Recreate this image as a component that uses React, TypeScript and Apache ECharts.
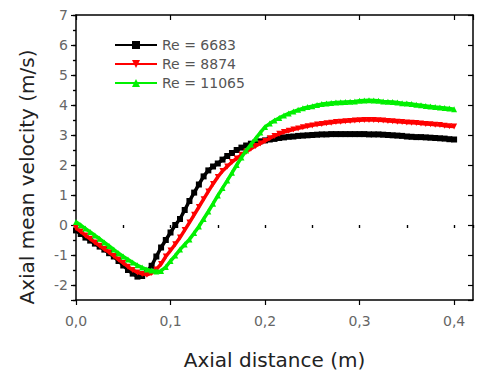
import React, { useEffect, useRef } from "react";
import * as echarts from "echarts";

// Axial distance (m)
const distance = [
  0.0, 0.005, 0.01, 0.015, 0.02, 0.025, 0.03, 0.035, 0.04, 0.045,
  0.05, 0.055, 0.06, 0.065, 0.07, 0.075, 0.08, 0.085, 0.09, 0.095,
  0.1, 0.105, 0.11, 0.115, 0.12, 0.125, 0.13, 0.135, 0.14, 0.145,
  0.15, 0.155, 0.16, 0.165, 0.17, 0.175, 0.18, 0.185, 0.19, 0.195,
  0.2, 0.205, 0.21, 0.215, 0.22, 0.225, 0.23, 0.235, 0.24, 0.245,
  0.25, 0.255, 0.26, 0.265, 0.27, 0.275, 0.28, 0.285, 0.29, 0.295,
  0.3, 0.305, 0.31, 0.315, 0.32, 0.325, 0.33, 0.335, 0.34, 0.345,
  0.35, 0.355, 0.36, 0.365, 0.37, 0.375, 0.38, 0.385, 0.39, 0.395, 0.4,
];

// Axial mean velocity (m/s)
const re6683 = [
  -0.18, -0.3, -0.42, -0.52, -0.62, -0.72, -0.82, -0.94, -1.05, -1.2,
  -1.35, -1.5, -1.62, -1.72, -1.7, -1.55, -1.36, -1.05, -0.75, -0.5,
  -0.25, 0.0, 0.2, 0.5, 0.8, 1.08, 1.35, 1.62, 1.82, 1.95,
  2.05, 2.18, 2.3, 2.4, 2.5, 2.58, 2.65, 2.71, 2.76, 2.79,
  2.82, 2.85, 2.87, 2.9, 2.92, 2.94, 2.95, 2.97, 2.98, 2.99,
  3.0, 3.01, 3.02, 3.02, 3.03, 3.03, 3.03, 3.03, 3.03, 3.03,
  3.03, 3.03, 3.02, 3.02, 3.02, 3.01, 3.0, 2.99, 2.98, 2.97,
  2.95, 2.94, 2.93, 2.93, 2.92, 2.91, 2.9, 2.89, 2.88, 2.86, 2.85,
];
const re8874 = [
  -0.1, -0.22, -0.35, -0.46, -0.58, -0.69, -0.8, -0.91, -1.03, -1.15,
  -1.27, -1.39, -1.5, -1.58, -1.63, -1.66, -1.6, -1.48, -1.3, -1.05,
  -0.85, -0.64, -0.42, -0.17, 0.08, 0.34, 0.6, 0.86, 1.12, 1.37,
  1.6, 1.8, 1.95, 2.1, 2.22, 2.34, 2.44, 2.54, 2.63, 2.72,
  2.8, 2.89, 2.97, 3.04, 3.1, 3.14, 3.18, 3.22, 3.26, 3.29,
  3.32, 3.35, 3.37, 3.39, 3.41, 3.43, 3.44, 3.46, 3.47, 3.48,
  3.49, 3.5, 3.5, 3.5, 3.49, 3.48, 3.47, 3.46, 3.44, 3.43,
  3.42, 3.41, 3.4, 3.38, 3.37, 3.36, 3.34, 3.33, 3.31, 3.29, 3.28,
];
const re11065 = [
  0.1, -0.01, -0.12, -0.23, -0.35, -0.46, -0.58, -0.7, -0.82, -0.94,
  -1.05, -1.15, -1.25, -1.34, -1.42, -1.48, -1.52, -1.55, -1.53, -1.4,
  -1.2, -1.02, -0.82, -0.65, -0.48, -0.27, -0.05, 0.2, 0.45, 0.71,
  0.98, 1.23, 1.48, 1.74, 2.0, 2.25, 2.48, 2.68, 2.88, 3.08,
  3.27, 3.38, 3.48, 3.57, 3.65, 3.72, 3.78, 3.84, 3.89, 3.93,
  3.96, 4.0, 4.03, 4.05, 4.07, 4.08, 4.09, 4.1, 4.11, 4.12,
  4.14, 4.15, 4.16, 4.15, 4.14, 4.12, 4.11, 4.1, 4.08, 4.06,
  4.05, 4.03, 4.01, 3.99, 3.97, 3.95, 3.93, 3.92, 3.9, 3.88, 3.86,
];

const seriesNames = ["Re = 6683", "Re = 8874", "Re = 11065"];
const seriesValues = [re6683, re8874, re11065];
const seriesColors = ["#000000", "#ff0000", "#00f000"];
const seriesSymbols = ["rect", "triangle", "triangle"];
const seriesSymbolRotate = [0, 180, 0];

const xTitle = "Axial distance (m)";
const yTitle = "Axial mean velocity (m/s)";

const X_MIN = 0;
const X_MAX = 0.42;
const Y_MIN = -2.5;
const Y_MAX = 7;

const FONT = "DejaVu Sans";

export default function App() {
  const ref = useRef<HTMLDivElement>(null);

  useEffect(() => {
    if (!ref.current) return;
    const chart = echarts.init(ref.current, undefined, { renderer: "svg" });

    const axisLineStyle = { color: "#000", width: 1.5 };
    const tickStyle = { color: "#000", width: 1.2 };

    const xFmt = (v: number) => {
      const k = Math.round(v * 10);
      if (Math.abs(v * 10 - k) > 1e-6) return "";
      return (k / 10).toFixed(1).replace(".", ",");
    };
    const yFmt = (v: number) => {
      if (Math.abs(v - Math.round(v)) > 1e-6) return "";
      return String(Math.round(v));
    };

    const option: any = {
      animation: false,
      backgroundColor: "#fff",
      grid: { left: 76, right: 7, top: 15, bottom: 67, containLabel: false },
      legend: {
        orient: "vertical",
        left: 109,
        top: 33,
        itemWidth: 42,
        itemHeight: 10,
        itemGap: 5,
        textStyle: { fontFamily: FONT, fontSize: 14, color: "#555" },
        lineStyle: { width: 2 },
        data: seriesNames,
      },
      xAxis: [
        {
          type: "value",
          position: "bottom",
          min: X_MIN,
          max: X_MAX,
          interval: 0.1,
          name: xTitle,
          nameLocation: "middle",
          nameGap: 50,
          nameTextStyle: { fontFamily: FONT, fontSize: 20, color: "#222" },
          axisLine: { show: true, onZero: false, lineStyle: axisLineStyle },
          axisTick: { show: true, inside: false, length: 5, lineStyle: tickStyle },
          axisLabel: {
            formatter: xFmt,
            margin: 14,
            fontFamily: FONT,
            fontSize: 14,
            color: "#666",
            showMaxLabel: false,
          },
          splitLine: { show: false },
        },
        {
          type: "value",
          position: "bottom",
          min: X_MIN,
          max: X_MAX,
          interval: 0.05,
          axisLine: { show: false },
          axisTick: { show: true, inside: false, length: 3, lineStyle: tickStyle },
          axisLabel: { show: false },
          splitLine: { show: false },
        },
        {
          type: "value",
          position: "top",
          min: X_MIN,
          max: X_MAX,
          interval: 0.1,
          axisLine: { show: true, onZero: false, lineStyle: axisLineStyle },
          axisTick: { show: true, inside: true, length: 5, lineStyle: tickStyle },
          axisLabel: { show: false },
          splitLine: { show: false },
        },
        {
          type: "value",
          position: "top",
          min: X_MIN,
          max: X_MAX,
          interval: 0.05,
          axisLine: { show: false },
          axisTick: { show: true, inside: true, length: 3, lineStyle: tickStyle },
          axisLabel: { show: false },
          splitLine: { show: false },
        },
      ],
      yAxis: [
        {
          type: "value",
          position: "left",
          min: Y_MIN,
          max: Y_MAX,
          splitNumber: 10,
          minInterval: 1,
          maxInterval: 1,
          axisLine: { show: true, onZero: false, lineStyle: axisLineStyle },
          axisTick: { show: true, inside: false, length: 5, lineStyle: tickStyle },
          axisLabel: { formatter: yFmt, margin: 8, fontFamily: FONT, fontSize: 14, color: "#666" },
          splitLine: { show: false },
        },
        {
          type: "value",
          position: "left",
          min: Y_MIN,
          max: Y_MAX,
          interval: 0.5,
          axisLine: { show: false },
          axisTick: { show: true, inside: false, length: 3, lineStyle: tickStyle },
          axisLabel: { show: false },
          splitLine: { show: false },
        },
        {
          type: "value",
          position: "right",
          min: Y_MIN,
          max: Y_MAX,
          splitNumber: 10,
          minInterval: 1,
          maxInterval: 1,
          axisLine: { show: true, onZero: false, lineStyle: axisLineStyle },
          axisTick: { show: true, inside: true, length: 5, lineStyle: tickStyle },
          axisLabel: { show: false },
          splitLine: { show: false },
        },
        {
          type: "value",
          position: "right",
          min: Y_MIN,
          max: Y_MAX,
          interval: 0.5,
          axisLine: { show: false },
          axisTick: { show: true, inside: true, length: 3, lineStyle: tickStyle },
          axisLabel: { show: false },
          splitLine: { show: false },
        },
      ],
      graphic: [
        {
          type: "text",
          x: 27,
          y: 177,
          rotation: Math.PI / 2,
          style: {
            text: yTitle,
            fontFamily: FONT,
            fontSize: 20,
            fill: "#222",
            align: "center",
            verticalAlign: "middle",
          },
        },
      ],
      series: seriesNames.map((name, i) => ({
        name,
        type: "line",
        xAxisIndex: 0,
        yAxisIndex: 0,
        data: distance.map((d, j) => [d, seriesValues[i][j]]),
        symbol: seriesSymbols[i],
        symbolRotate: seriesSymbolRotate[i],
        symbolSize: 6,
        showAllSymbol: true,
        lineStyle: { color: seriesColors[i], width: 3.5 },
        itemStyle: { color: seriesColors[i] },
        z: 2 + i,
      })),
    };

    chart.setOption(option);
    return () => chart.dispose();
  }, []);

  return (
    <div
      ref={ref}
      style={{ position: "absolute", left: 0, top: 0, width: 480, height: 375 }}
    />
  );
}
